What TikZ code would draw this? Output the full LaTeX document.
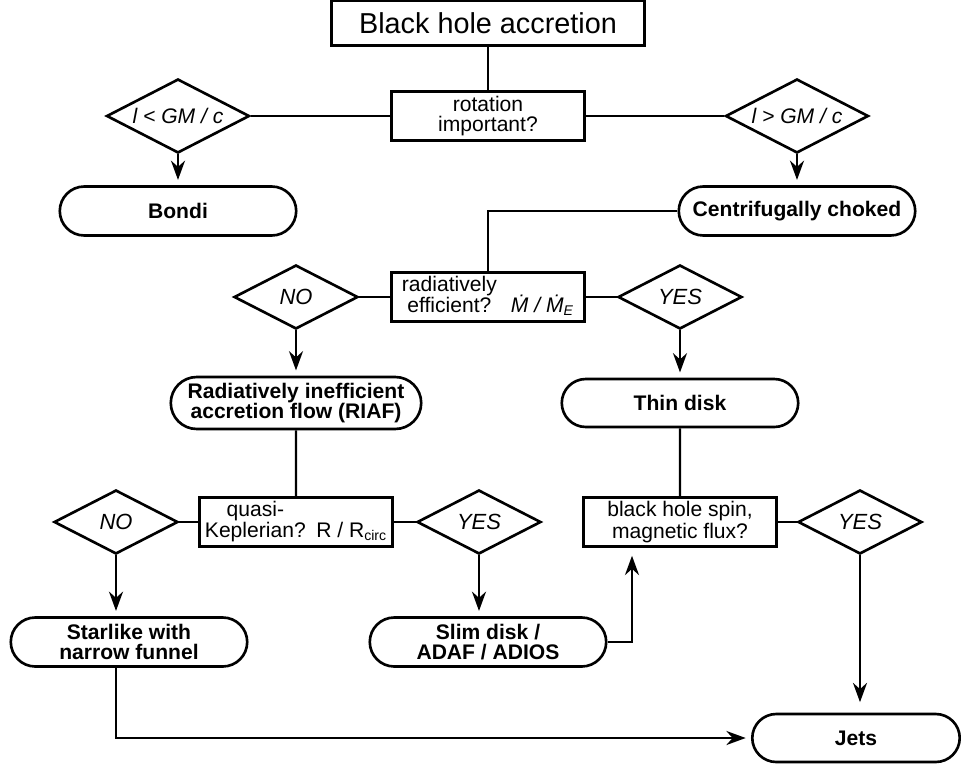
\documentclass[tikz,border=0pt]{standalone}
\usepackage{fontspec}
\setmainfont{Liberation Sans}
\usetikzlibrary{shapes.geometric,shapes.misc,arrows.meta}

\tikzset{
	box/.style={draw,rectangle,line width=1.5pt,minimum width=3.86cm,minimum height=0.97cm,inner sep=2pt,align=center,font=\fontsize{12}{11}\selectfont},
	ask/.style={draw,diamond,aspect=1.94,line width=1.5pt,minimum width=2.48cm,minimum height=1.28cm,inner sep=0pt,font=\fontsize{12.5}{12}\selectfont\itshape},
	askbig/.style={ask,aspect=1.93,minimum width=2.86cm,minimum height=1.48cm,font=\fontsize{12}{12}\selectfont\itshape},
	term/.style={draw,rounded rectangle,line width=1.5pt,minimum width=4.8cm,minimum height=0.98cm,inner sep=1pt,align=center,font=\fontsize{12}{11.3}\selectfont\bfseries},
	link/.style={line width=1.2pt},
	flow/.style={line width=1.2pt,-{Stealth[length=11pt,width=8pt]},shorten >=3pt}
}

\begin{document}
\begin{tikzpicture}[x=0.02cm,y=-0.02cm]
	\useasboundingbox (0,0) rectangle (961,765);

	\node[box,minimum width=6.26cm,minimum height=0.9cm,font=\fontsize{16.4}{18}\selectfont] (title) at (488,23) {Black hole accretion};
	\node[box] (rot) at (488,116) {rotation\\important?};
	\node[askbig] (lt) at (178,116) {\makebox[0pt]{l < GM / c}};
	\node[askbig] (gt) at (797,116) {\makebox[0pt]{l > GM / c}};
	\node[term] (bondi) at (178,211) {Bondi};
	\node[term] (choked) at (797,211) {Centrifugally choked};

	\node[box] (rad) at (488,297) {\begin{tabular}[b]{@{}c@{}}radiatively\\efficient?\end{tabular}\hspace{8pt}\textit{\.M / \.M}\textsubscript{\textit{E}}};
	\node[ask] (no1) at (296,297) {NO};
	\node[ask] (yes1) at (680,297) {YES};
	\node[term,minimum width=5.08cm,minimum height=1.04cm] (riaf) at (296,403) {Radiatively inefficient\\accretion flow (RIAF)};
	\node[term,minimum height=0.96cm] (thin) at (680,403) {Thin disk};

	\node[box] (quasi) at (296,522) {\begin{tabular}[b]{@{}c@{}}quasi-\\Keplerian?\end{tabular}\hspace{6pt}R / R\textsubscript{circ}};
	\node[ask] (no2) at (116,522) {NO};
	\node[ask] (yes2) at (479,522) {YES};
	\node[box] (spin) at (680,522) {black hole spin,\\magnetic flux?};
	\node[ask] (yes3) at (860,522) {YES};

	\node[term] (star) at (129,642) {Starlike with\\narrow funnel};
	\node[term] (slim) at (488,642) {Slim disk /\\ADAF / ADIOS};
	\node[term,minimum width=4.22cm,minimum height=0.96cm] (jets) at (856,738) {Jets};
	\coordinate (spinin) at (632,547);

	\foreach \from/\to in {title/rot,rot/lt,rot/gt,rad/no1,rad/yes1,riaf/quasi,thin/spin,quasi/no2,quasi/yes2,spin/yes3}
		\draw[link] (\from) -- (\to);

	\foreach \from/\to in {lt/bondi,gt/choked,no1/riaf,yes1/thin}
		\draw[flow] (\from.south) -- (\to.north);

	\draw[link] (choked.west) -| (rad.north);
	\draw[flow] (no2.south) -- (no2.south |- star.north);
	\draw[flow] (yes2.south) -- (yes2.south |- slim.north);
	\draw[flow,shorten >=5pt] (slim.east) -| (spinin);
	\draw[flow,shorten >=6pt] (yes3.south) -- (yes3.south |- jets.north);
	\draw[flow] (no2.south |- star.south) |- (jets.west);
\end{tikzpicture}
\end{document}
